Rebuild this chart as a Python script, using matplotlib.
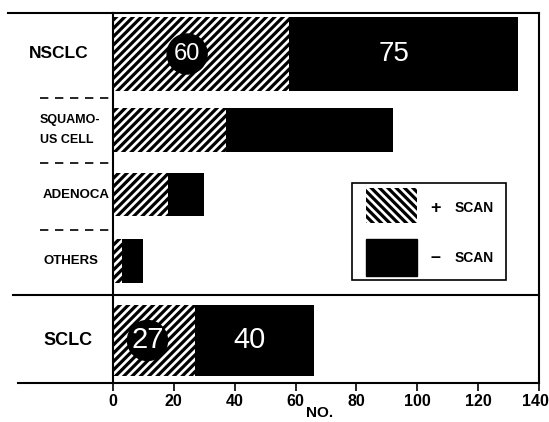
import matplotlib.pyplot as plt
import matplotlib.transforms as mtransforms
from matplotlib.patches import Rectangle, Ellipse

plt.rcParams['hatch.linewidth'] = 2.3

# data
categories = ['NSCLC', 'SQUAMO-\nUS CELL', 'ADENOCA', 'OTHERS', 'SCLC']
plus_scan = [58, 37, 18, 3, 27]
minus_scan = [75, 55, 12, 7, 39]
plus_labels = {'NSCLC': '60', 'SCLC': '27'}
minus_labels = {'NSCLC': '75', 'SCLC': '40'}
xticks = [0, 20, 40, 60, 80, 100, 120, 140]

# layout (y in units of 10 px from the axis line)
ypos = [32.9, 25.3, 18.85, 12.2, 4.25]
heights = [7.4, 4.4, 4.3, 4.4, 7.1]
label_x = [-0.197, -0.171, -0.164, -0.164, -0.164]
label_size = [12.5, 9, 9.5, 9.5, 13]
font = 'Liberation Sans'

fig = plt.figure(figsize=(5.49, 4.22), dpi=100)
ax = fig.add_axes([113 / 549, 1 - 383 / 422, 426 / 549, 370 / 422])
ax.set_xlim(0, 140)
ax.set_ylim(0, 37)

ax.barh(ypos, plus_scan, height=heights, color='white', edgecolor='black',
        hatch='////', linewidth=0)
ax.barh(ypos, minus_scan, left=plus_scan, height=heights, color='black',
        linewidth=0)

# numbers on the big bars (circle radius about 20 px)
rx = 20 * 140 / 426
ry = 20 * 37 / 370
for cat, y, p, m in zip(categories, ypos, plus_scan, minus_scan):
    fs = 17 if cat == 'NSCLC' else 21
    if cat in plus_labels:
        cx = p * 0.42
        ax.add_patch(Ellipse((cx, y), 2 * rx, 2 * ry, color='black', zorder=3))
        ax.text(cx, y, plus_labels[cat], color='white', ha='center',
                va='center', fontsize=fs, family=font, zorder=4)
    if cat in minus_labels:
        ax.text(p + m * 0.46, y, minus_labels[cat], color='white',
                ha='center', va='center', fontsize=20 if cat == 'NSCLC' else 21,
                family=font)

# category labels
for cat, y, lx, fs in zip(categories, ypos, label_x, label_size):
    ax.text(lx, y, cat, transform=ax.get_yaxis_transform(), ha='left',
            va='center', fontsize=fs, fontweight='bold', family=font,
            linespacing=1.85)

# frame lines
tr = ax.get_yaxis_transform()
for s in ax.spines.values():
    s.set_linewidth(1.5)
ax.plot([-0.246, 0], [37, 37], color='black', lw=1.5, transform=tr, clip_on=False)
ax.plot([-0.223, 0], [0, 0], color='black', lw=1.5, transform=tr, clip_on=False)
ax.plot([-0.235, 1], [8.8, 8.8], color='black', lw=1.5, transform=tr, clip_on=False)
for yd in [28.5, 22.0, 15.3]:
    ax.plot([-0.171, -0.007], [yd, yd], color='black', lw=1.2, ls=(0, (5, 4)),
            transform=tr, clip_on=False)

# legend
ax.add_patch(Rectangle((78.5, 10.3), 50.6, 9.7, fill=False, edgecolor='black',
                       lw=1.2))
ax.add_patch(Rectangle((83.1, 16.0), 16.8, 3.5, facecolor='white',
                       edgecolor='black', hatch='\\\\\\\\', lw=0))
ax.add_patch(Rectangle((83.1, 10.7), 16.8, 3.7, color='black'))
ax.text(106.1, 17.5, '+', ha='center', va='center', fontsize=13,
        fontweight='bold', family=font)
ax.text(106.1, 12.6, '\u2013', ha='center', va='center', fontsize=13,
        fontweight='bold', family=font)
ax.text(112.4, 17.5, 'SCAN', ha='left', va='center', fontsize=10,
        fontweight='bold', family=font)
ax.text(112.4, 12.5, 'SCAN', ha='left', va='center', fontsize=10,
        fontweight='bold', family=font)

ax.set_yticks([])
ax.set_xticks(xticks)
ax.set_xticklabels([str(t) for t in xticks], fontsize=11.5, fontweight='bold',
                   family=font)
ax.tick_params(axis='x', length=6, width=1.2, pad=2)
last = ax.get_xticklabels()[-1]
last.set_transform(last.get_transform() +
                   mtransforms.ScaledTranslation(-4 / 100, 0, fig.dpi_scale_trans))
fig.text(320 / 549, 1 - 406 / 422, 'NO.', ha='center', va='top', fontsize=11,
         fontweight='bold', family=font)

fig.savefig('out.png', dpi=100)
